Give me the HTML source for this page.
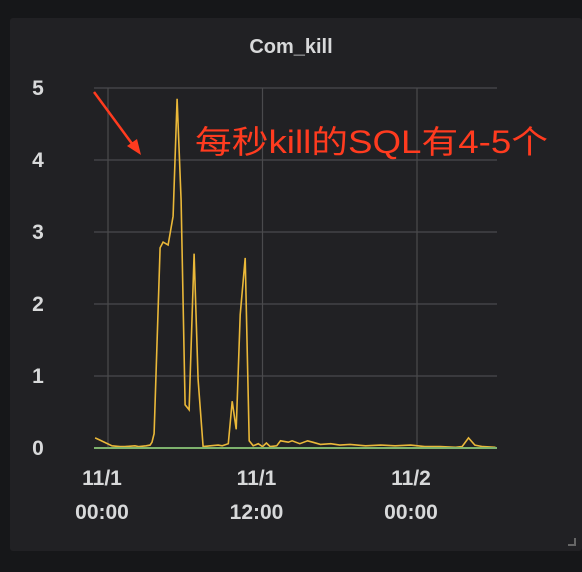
<!DOCTYPE html>
<html><head><meta charset="utf-8">
<style>
html,body{margin:0;padding:0;background:#161719;}
body{width:582px;height:572px;overflow:hidden;position:relative;font-family:"Liberation Sans","Noto Sans CJK SC",sans-serif;}
#panel{position:absolute;left:10px;top:18px;width:572px;height:533px;background:#212124;border-radius:3px;}
</style></head><body>
<div id="panel"></div>
<svg id="chart" width="582" height="572" style="position:absolute;left:0;top:0">
<text x="291" y="53" text-anchor="middle" fill="#d8d9da" font-size="20" font-weight="bold" font-family="Liberation Sans, sans-serif">Com_kill</text>
<g id="grid"></g>
<g id="yticks"></g>
<g id="xticks"></g>
<path id="series" fill="none" stroke="#eab839" stroke-width="1.6"></path>
<line x1="94" y1="448" x2="497" y2="448" stroke="#7eb26d" stroke-width="2"></line>
<line x1="94" y1="92" x2="133" y2="145" stroke="#ff3b1f" stroke-width="2.5"></line>
<polygon points="141,155 127,146 137,139" fill="#ff3b1f"></polygon>
<text x="195" y="153" fill="#ff3b1f" font-size="32" textLength="353" lengthAdjust="spacingAndGlyphs" font-family="Liberation Sans, Noto Sans CJK SC, sans-serif">每秒kill的SQL有4-5个</text>
<rect x="566" y="536" width="9" height="9" fill="none"></rect>
<path d="M568 545 H575 V538" stroke="#666" stroke-width="2" fill="none"></path>
</svg>
<script>
const hours=[-1.0,-0.62,0.31,0.93,1.32,2.1,2.41,2.96,3.27,3.42,3.58,4.05,4.28,4.67,5.06,5.37,5.68,5.99,6.3,6.69,7.0,7.39,7.94,8.56,8.87,9.34,9.65,9.96,10.27,10.66,10.97,11.28,11.67,12.0,12.3,12.6,13.1,13.4,14.0,14.3,14.9,15.5,15.9,16.5,17.3,18.0,18.8,20.0,21.2,22.3,23.5,24.6,25.8,27.0,27.5,28.0,28.5,29.1,30.1];
const values=[0.14,0.11,0.03,0.02,0.02,0.03,0.02,0.03,0.04,0.08,0.2,2.78,2.86,2.82,3.22,4.85,3.44,0.6,0.53,2.7,0.95,0.02,0.03,0.04,0.03,0.06,0.65,0.26,1.85,2.64,0.1,0.03,0.06,0.02,0.07,0.02,0.03,0.1,0.08,0.1,0.06,0.1,0.08,0.05,0.06,0.04,0.05,0.03,0.04,0.03,0.04,0.02,0.02,0.01,0.02,0.14,0.04,0.02,0.01];
const yTicks=[0,1,2,3,4,5];
const xTicks=[0,12,24];
const xTickLines=[["11/1","00:00"],["11/1","12:00"],["11/2","00:00"]];
const X0=94,X1=497,Y0=448,Y1=88;
function sx(h){return 108+h*(417-108)/24;}
function sy(v){return Y0-(v/5)*(Y0-Y1);}
const NS="http://www.w3.org/2000/svg";
const grid=document.getElementById('grid'),yt=document.getElementById('yticks'),xt=document.getElementById('xticks');
yTicks.forEach(v=>{
  const l=document.createElementNS(NS,'line');
  l.setAttribute('x1',X0);l.setAttribute('x2',X1);l.setAttribute('y1',sy(v));l.setAttribute('y2',sy(v));
  l.setAttribute('stroke','#4a4a4d');l.setAttribute('stroke-width','1.2');
  
  
  grid.appendChild(l);
  const t=document.createElementNS(NS,'text');
  t.setAttribute('x',38);t.setAttribute('y',sy(v)+7);t.setAttribute('text-anchor','middle');
  t.setAttribute('fill','#d8d9da');t.setAttribute('font-size','21');t.setAttribute('font-weight','bold');
  t.textContent=v;
  
  
  yt.appendChild(t);
});
xTicks.forEach((h,i)=>{
  const l=document.createElementNS(NS,'line');
  l.setAttribute('x1',sx(h));l.setAttribute('x2',sx(h));l.setAttribute('y1',Y1);l.setAttribute('y2',Y0);
  l.setAttribute('stroke','#4a4a4d');l.setAttribute('stroke-width','1.2');
  
  
  grid.appendChild(l);
  xTickLines[i].forEach((s,j)=>{
    const t=document.createElementNS(NS,'text');
    t.setAttribute('x',sx(h)-6);t.setAttribute('y',485+j*34);t.setAttribute('text-anchor','middle');
    t.setAttribute('fill','#d8d9da');t.setAttribute('font-size','21');t.setAttribute('font-weight','bold');
    t.textContent=s;
    
    
    xt.appendChild(t);
  });
});
document.getElementById('series').setAttribute('d',hours.map((h,i)=>(i?'L':'M')+sx(h).toFixed(1)+' '+sy(values[i]).toFixed(1)).join(' '));
</script>
</body></html>
